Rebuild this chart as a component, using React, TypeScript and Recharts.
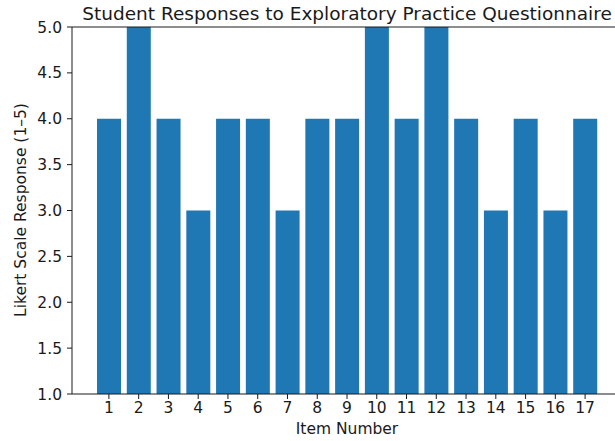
import React from 'react';
import { BarChart, Bar, XAxis, YAxis, ReferenceLine } from 'recharts';

const items = [1, 2, 3, 4, 5, 6, 7, 8, 9, 10, 11, 12, 13, 14, 15, 16, 17];
const responses = [4, 5, 4, 3, 4, 4, 3, 4, 4, 5, 4, 5, 4, 3, 4, 3, 4];
const yTicks = [1.0, 1.5, 2.0, 2.5, 3.0, 3.5, 4.0, 4.5, 5.0];

const chartData = items.map((item, i) => ({ item, response: responses[i] }));

const font = 'DejaVu Sans, sans-serif';
const ink = '#1a1a1a';
const tickStyle = { fontSize: 15.5, fill: ink, fontFamily: font };

const App: React.FC = () => (
  <div style={{ position: 'absolute', left: 0, top: 0, width: 615, height: 441, overflow: 'hidden', background: '#fff' }}>
    <BarChart
      width={640}
      height={441}
      data={chartData}
      margin={{ top: 27, right: 18, left: 0, bottom: 0 }}
    >
      <text x={347} y={20} textAnchor="middle" fontSize={18.5} fontFamily={font} fill={ink}>
        Student Responses to Exploratory Practice Questionnaire
      </text>
      <text x={347} y={434} textAnchor="middle" fontSize={15.5} fontFamily={font} fill={ink}>
        Item Number
      </text>
      <text x={26} y={210} textAnchor="middle" fontSize={15.5} fontFamily={font} fill={ink} transform="rotate(-90 26 210)">
        Likert Scale Response (1–5)
      </text>
      <XAxis
        dataKey="item"
        type="number"
        domain={[-0.24, 18.24]}
        ticks={items}
        interval={0}
        allowDataOverflow
        height={47}
        tick={tickStyle}
        tickSize={5}
        tickMargin={3}
        stroke={ink}
      />
      <YAxis
        type="number"
        domain={[1, 5]}
        ticks={yTicks}
        interval={0}
        allowDataOverflow
        width={72}
        tick={tickStyle}
        tickSize={5}
        tickMargin={5}
        tickFormatter={(v: number) => v.toFixed(1)}
        stroke={ink}
      />
      <Bar dataKey="response" fill="#1f77b4" barSize={24} isAnimationActive={false} />
      <ReferenceLine y={5} stroke={ink} />
    </BarChart>
  </div>
);

export default App;
